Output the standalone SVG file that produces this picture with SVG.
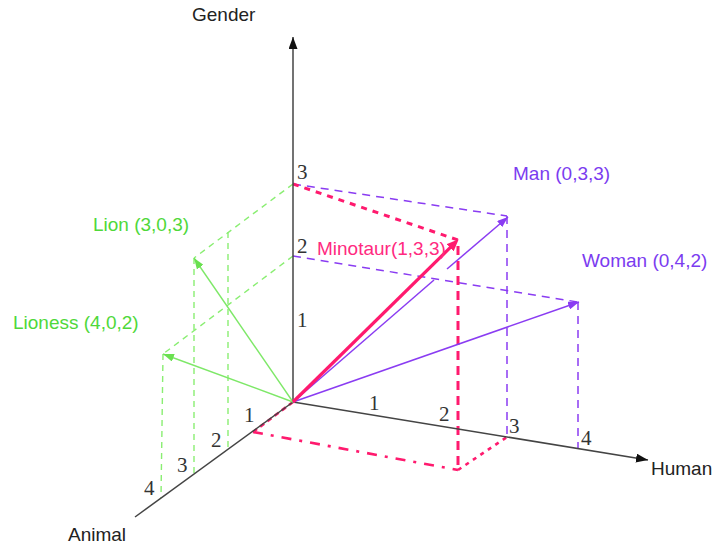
<svg xmlns="http://www.w3.org/2000/svg" width="712" height="546" viewBox="0 0 712 546">
<style>
.lbl{font-family:"Liberation Sans",Arial,sans-serif;font-size:19px}
.tick{font-family:"Liberation Serif","DejaVu Serif",serif;font-size:21px;fill:#333}
.axis{stroke:#444;stroke-width:1.5;fill:none}
.g{stroke:#7ee868;stroke-width:1.4;fill:none}
.gd{stroke:#8aee72;stroke-width:1.4;fill:none;stroke-dasharray:6 5}
.p{stroke:#8a3cf2;stroke-width:1.5;fill:none}
.pd{stroke:#8a3cf2;stroke-width:1.5;fill:none;stroke-dasharray:8 6}
.k{stroke:#ff1a6e;fill:none}
</style>
<defs>
<marker id="ak" viewBox="0 0 12 9" markerWidth="12" markerHeight="9" refX="12" refY="4.5" orient="auto" markerUnits="userSpaceOnUse"><path d="M0,0 L12,4.5 L0,9 z" fill="#111"/></marker>
<marker id="ap" viewBox="0 0 11 8" markerWidth="11" markerHeight="8" refX="11" refY="4" orient="auto" markerUnits="userSpaceOnUse"><path d="M0,0 L11,4 L0,8 z" fill="#8a3cf2"/></marker>
<marker id="ag" viewBox="0 0 11 8" markerWidth="11" markerHeight="8" refX="11" refY="4" orient="auto" markerUnits="userSpaceOnUse"><path d="M0,0 L11,4 L0,8 z" fill="#6ae050"/></marker>
<marker id="am" viewBox="0 0 12 10" markerWidth="12" markerHeight="10" refX="5" refY="5" orient="auto" markerUnits="userSpaceOnUse"><path d="M0,0 L12,5 L0,10 z" fill="#ff1a6e"/></marker>
</defs>

<g id="connectors">
  <line class="gd" x1="293" y1="184" x2="194" y2="258"/>
  <line class="gd" x1="194" y1="258" x2="194" y2="474"/>
  <line class="gd" x1="228" y1="232" x2="228" y2="452"/>
  <line class="gd" x1="293" y1="256" x2="163" y2="354"/>
  <line class="gd" x1="163" y1="354" x2="161" y2="498"/>
  <line class="pd" x1="293" y1="184" x2="507" y2="216"/>
  <line class="pd" x1="507" y1="216" x2="507" y2="437"/>
  <line class="pd" x1="293" y1="256" x2="578" y2="302"/>
  <line class="pd" x1="578" y1="302" x2="578" y2="448"/>
  <line class="k" stroke-width="3" stroke-dasharray="6 6" x1="293" y1="184" x2="458" y2="240"/>
  <line class="k" stroke-width="3" stroke-dasharray="9 6" x1="458" y1="246" x2="458" y2="470"/>
  <line class="k" stroke-width="2.6" stroke-dasharray="10 8 3 8" x1="253" y1="432" x2="458" y2="470"/>
  <line class="k" stroke-width="2.6" stroke-dasharray="4 5" x1="458" y1="470" x2="507" y2="437"/>
  <line class="k" stroke-width="2.6" stroke-dasharray="5 4" x1="293" y1="402" x2="253" y2="432"/>
</g>

<g id="gender-axis">
  <line class="axis" x1="293" y1="402" x2="293" y2="37" marker-end="url(#ak)"/>
  <text class="lbl" x="192" y="21" fill="#222">Gender</text>
  <text class="tick" x="297" y="327">1</text>
  <text class="tick" x="297" y="253">2</text>
  <text class="tick" x="297" y="179">3</text>
</g>
<g id="human-axis">
  <line class="axis" x1="293" y1="402" x2="648" y2="460" marker-end="url(#ak)"/>
  <text class="lbl" x="651" y="475" fill="#222">Human</text>
  <text class="tick" x="369" y="410">1</text>
  <text class="tick" x="439" y="421">2</text>
  <text class="tick" x="509" y="433">3</text>
  <text class="tick" x="581" y="445">4</text>
</g>
<g id="animal-axis">
  <line class="axis" x1="293" y1="402" x2="135" y2="517"/>
  <text class="lbl" x="68" y="541" fill="#222">Animal</text>
  <text class="tick" x="244" y="422">1</text>
  <text class="tick" x="211" y="447">2</text>
  <text class="tick" x="177" y="472">3</text>
  <text class="tick" x="144" y="495">4</text>
</g>

<g id="lion">
  <line class="g" x1="293" y1="402" x2="194" y2="258" marker-end="url(#ag)"/>
  <text class="lbl" x="93" y="231" fill="#4fd83a">Lion (3,0,3)</text>
</g>
<g id="lioness">
  <line class="g" x1="293" y1="402" x2="163" y2="354" marker-end="url(#ag)"/>
  <text class="lbl" x="13" y="329" fill="#4fd83a">Lioness (4,0,2)</text>
</g>
<g id="man">
  <line class="p" x1="293" y1="402" x2="434" y2="280"/>
  <line class="p" x1="447" y1="269" x2="508" y2="217" marker-end="url(#ap)"/>
  <text class="lbl" x="513" y="180" fill="#7b3cf0">Man (0,3,3)</text>
</g>
<g id="woman">
  <line class="p" x1="293" y1="402" x2="579" y2="302" marker-end="url(#ap)"/>
  <text class="lbl" x="582" y="267" fill="#7b3cf0">Woman (0,4,2)</text>
</g>
<g id="minotaur">
  <line class="k" stroke-width="3.2" x1="293" y1="402" x2="453.7" y2="244.2" marker-end="url(#am)"/>
  <text class="lbl" x="317" y="255" fill="#ff2a7f">Minotaur(1,3,3)</text>
</g>
</svg>
